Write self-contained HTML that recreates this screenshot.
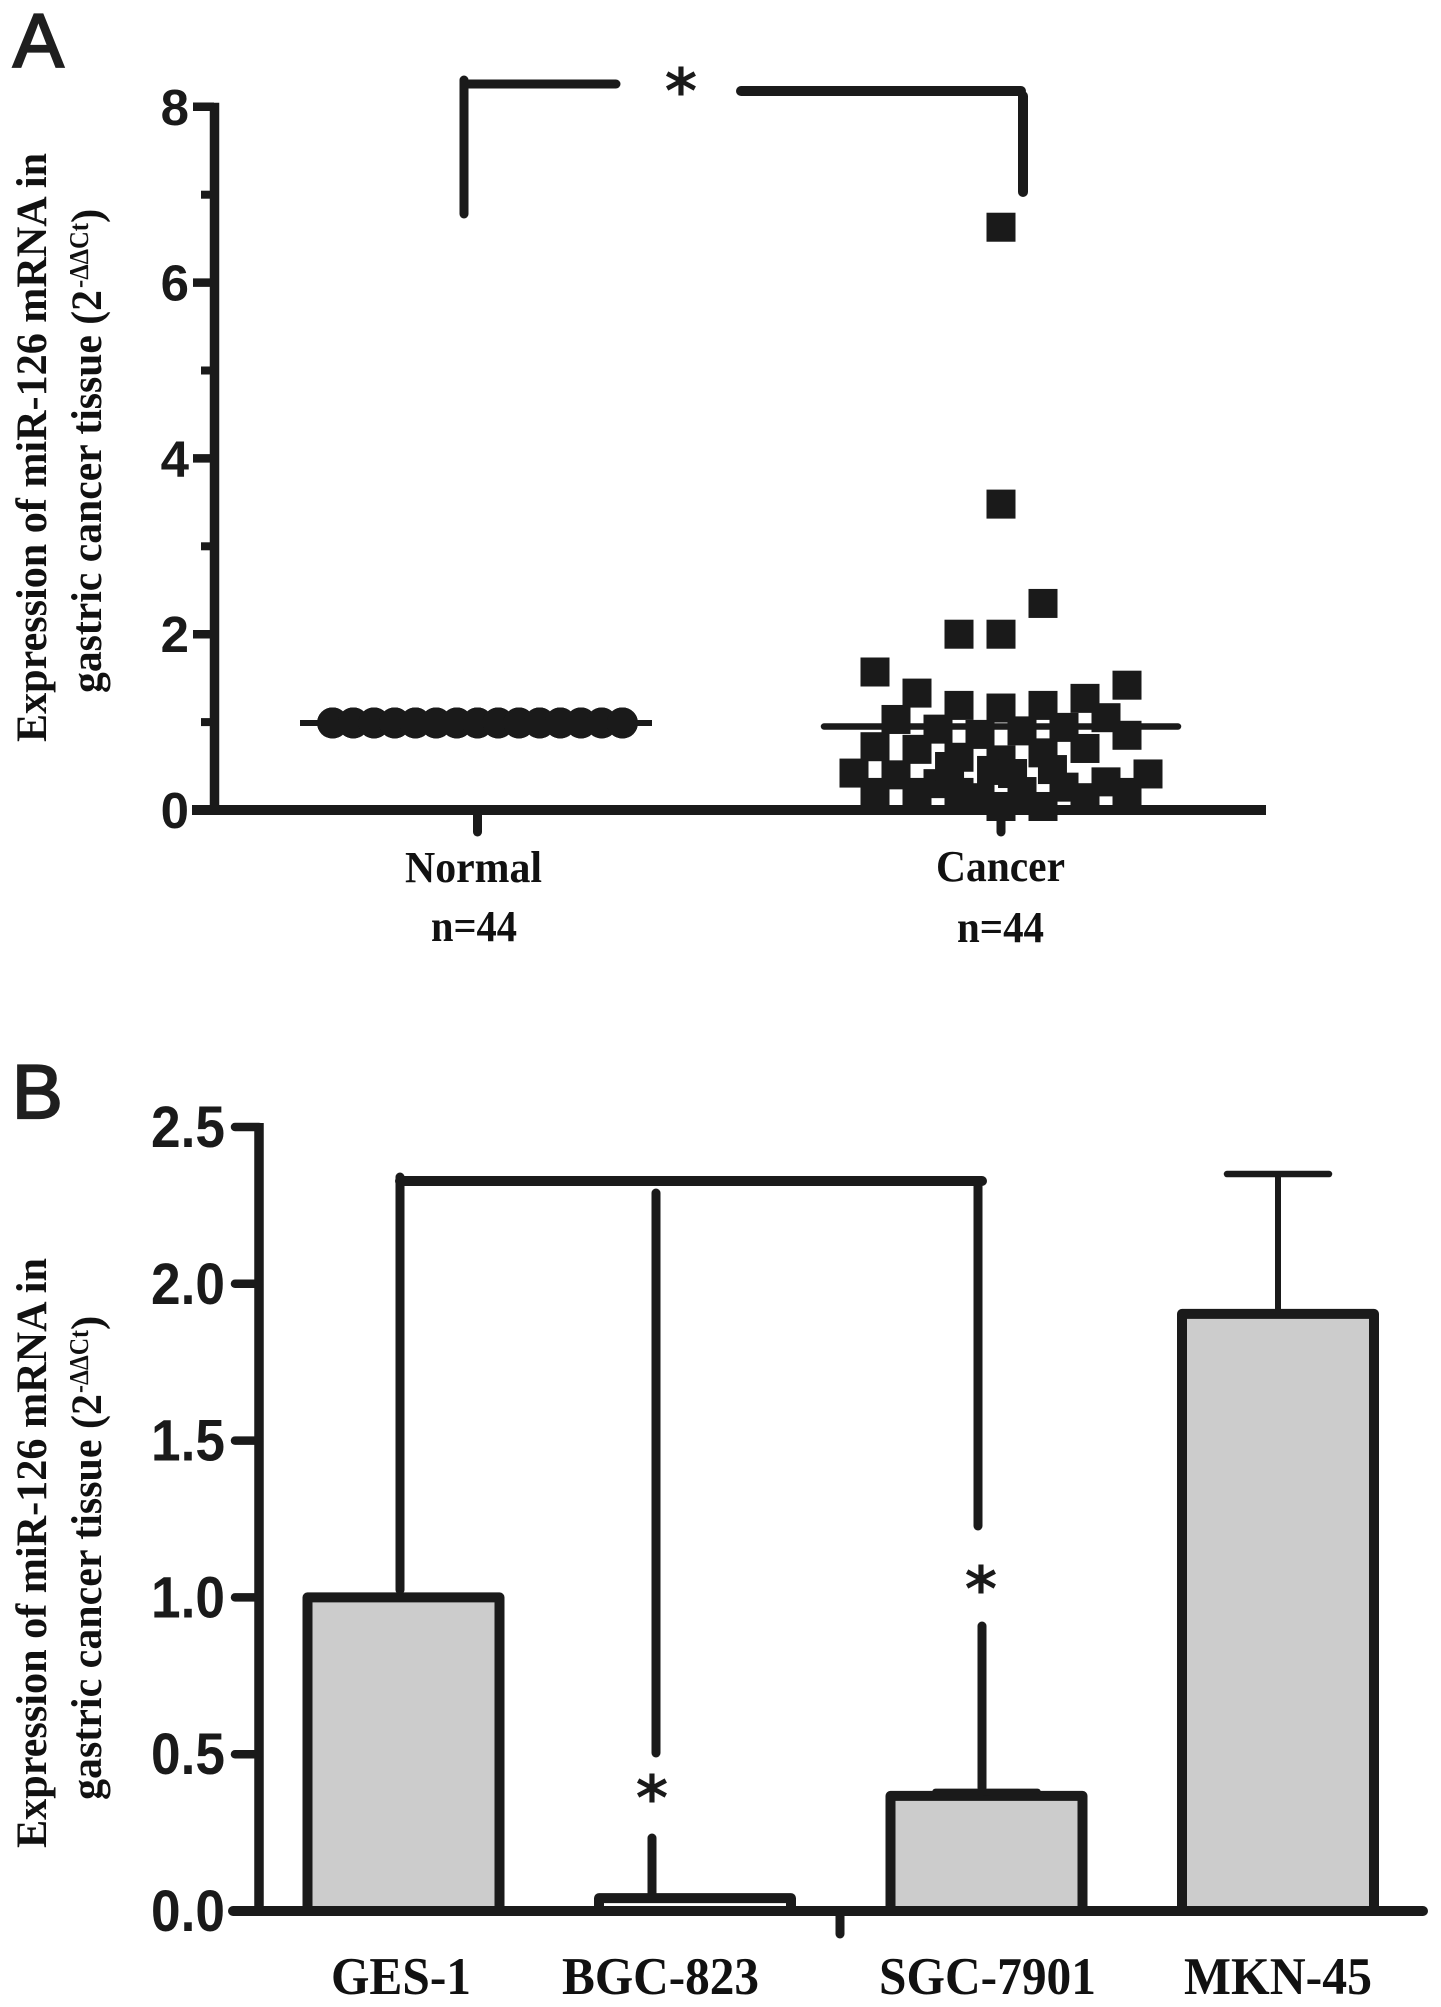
<!DOCTYPE html>
<html lang="en">
<head>
<meta charset="utf-8">
<title>miR-126 expression charts</title>
<style>
html,body{margin:0;padding:0;background:#fff;}
svg{display:block;}
.title{font-family:"Liberation Serif",serif;font-weight:bold;fill:#111;}
.cat{font-family:"Liberation Serif",serif;font-weight:bold;fill:#111;}
.tick{font-family:"Liberation Sans",sans-serif;font-weight:bold;fill:#1a1a1a;}
.letter{font-family:"Liberation Sans",sans-serif;fill:#1f1f1f;stroke:#1f1f1f;stroke-width:2.2px;}
.star{font-family:"DejaVu Sans",sans-serif;font-weight:bold;fill:#1a1a1a;text-anchor:middle;}
.ln{stroke:#1a1a1a;stroke-linecap:round;fill:none;}
</style>
</head>
<body>
<svg id="chart" xmlns="http://www.w3.org/2000/svg" width="1441" height="2007" viewBox="0 0 1441 2007">
  <rect x="0" y="0" width="1441" height="2007" fill="#ffffff"/>

  <!-- Panel A static text -->
  <text class="letter" x="13" y="67" font-size="76">A</text>
  <text class="title" transform="translate(46,742) rotate(-90)" font-size="43" textLength="589" lengthAdjust="spacingAndGlyphs">Expression of miR-126 mRNA in</text>
  <text class="title" transform="translate(101,693) rotate(-90)" font-size="43" textLength="403" lengthAdjust="spacingAndGlyphs">gastric cancer tissue (2</text>
  <text class="title" transform="translate(88,288) rotate(-90)" font-size="27" textLength="65" lengthAdjust="spacingAndGlyphs">-ΔΔCt</text>
  <text class="title" transform="translate(101,223) rotate(-90)" font-size="43">)</text>
  <text class="cat" x="405" y="882" font-size="44" textLength="137" lengthAdjust="spacingAndGlyphs">Normal</text>
  <text class="cat" x="431" y="941" font-size="44" textLength="86" lengthAdjust="spacingAndGlyphs">n=44</text>
  <text class="cat" x="936" y="881" font-size="44" textLength="129" lengthAdjust="spacingAndGlyphs">Cancer</text>
  <text class="cat" x="957" y="942" font-size="44" textLength="87" lengthAdjust="spacingAndGlyphs">n=44</text>

  <!-- Panel A significance bracket -->
  <g>
    <line class="ln" x1="464" y1="80" x2="464" y2="214" stroke-width="9"/>
    <line class="ln" x1="464" y1="84" x2="616" y2="84" stroke-width="9"/>
    <line class="ln" x1="741" y1="91" x2="1021" y2="91" stroke-width="10"/>
    <line class="ln" x1="1023" y1="96" x2="1023" y2="192" stroke-width="10"/>
  </g>
  <text class="star" x="681" y="113" font-size="62">*</text>

  <!-- Panel B static text -->
  <text class="letter" x="12" y="1118" font-size="76">B</text>
  <text class="title" transform="translate(46,1848) rotate(-90)" font-size="43" textLength="590" lengthAdjust="spacingAndGlyphs">Expression of miR-126 mRNA in</text>
  <text class="title" transform="translate(101,1800) rotate(-90)" font-size="43" textLength="406" lengthAdjust="spacingAndGlyphs">gastric cancer tissue (2</text>
  <text class="title" transform="translate(88,1393) rotate(-90)" font-size="27" textLength="63" lengthAdjust="spacingAndGlyphs">-ΔΔCt</text>
  <text class="title" transform="translate(101,1330) rotate(-90)" font-size="43">)</text>

  <!-- Panel B category labels -->
  <text class="cat" x="331" y="1994" font-size="53" textLength="140" lengthAdjust="spacingAndGlyphs">GES-1</text>
  <text class="cat" x="562" y="1994" font-size="53" textLength="197" lengthAdjust="spacingAndGlyphs">BGC-823</text>
  <text class="cat" x="879" y="1994" font-size="53" textLength="217" lengthAdjust="spacingAndGlyphs">SGC-7901</text>
  <text class="cat" x="1184" y="1994" font-size="53" textLength="188" lengthAdjust="spacingAndGlyphs">MKN-45</text>

  <!-- Panel B significance brackets -->
  <g>
    <line class="ln" x1="400" y1="1181" x2="982" y2="1181" stroke-width="10"/>
    <line class="ln" x1="400" y1="1177" x2="400" y2="1590" stroke-width="9"/>
    <line class="ln" x1="656" y1="1193" x2="656" y2="1753" stroke-width="9"/>
    <line class="ln" x1="652" y1="1838" x2="652" y2="1900" stroke-width="9"/>
    <line class="ln" x1="978" y1="1181" x2="978" y2="1526" stroke-width="9"/>
    <line class="ln" x1="982" y1="1626" x2="982" y2="1788" stroke-width="9"/>
  </g>
  <text class="star" x="652" y="1820" font-size="62">*</text>
  <text class="star" x="981" y="1611" font-size="62">*</text>

  <g id="panelA"></g>
  <g id="panelB"></g>
</svg>

<script>
/* Panel A data */
const aMajorTicks = [0, 2, 4, 6, 8];
const aMinorTicks = [1, 3, 5, 7];
const normalColumns = [-7,-7,-7,-6,-6,-6,-5,-5,-5,-4,-4,-4,-3,-3,-3,-2,-2,-2,-1,-1,-1,0,0,0,1,1,1,2,2,2,3,3,3,4,4,4,5,5,5,6,6,7,7,7];
const normalValues = [0.99,0.99,0.99,0.99,0.99,0.99,0.99,0.99,0.99,0.99,0.99,0.99,0.99,0.99,0.99,0.99,0.99,0.99,0.99,0.99,0.99,0.99,0.99,0.99,0.99,0.99,0.99,0.99,0.99,0.99,0.99,0.99,0.99,0.99,0.99,0.99,0.99,0.99,0.99,0.99,0.99,0.99,0.99,0.99];
const cancerColumns = [-7,-6,-6,-6,-5,-5,-4,-4,-4,-3,-3,-2.45,-2,-2,-2,-2,-1,-1,-0.45,0,0,0,0,0,0,0.55,1,1,2,2,2,2,2.45,3,3,4,4,4,5,5,6,6,6,7];
const cancerValues = [0.42,1.57,0.72,0.2,1.03,0.40,1.33,0.69,0.2,0.92,0.30,0.495,2.0,1.19,0.60,0.2,0.14,0.86,0.45,6.63,3.48,2.0,1.16,0.57,0.04,0.415,0.90,0.21,2.35,1.19,0.65,0.04,0.46,0.94,0.26,1.27,0.70,0.14,1.05,0.32,1.42,0.85,0.2,0.41];
const normalMean = 0.99;
const cancerMean = 0.95;

/* Panel B data */
const bTicks = [0, 0.5, 1, 1.5, 2, 2.5];
const bTickLabels = ["0.0", "0.5", "1.0", "1.5", "2.0", "2.5"];
const bCategories = ["GES-1", "BGC-823", "SGC-7901", "MKN-45"];
const bValues = [1.0, 0.041, 0.367, 1.904];
const bErrorTops = [1.0, 0.041, 0.38, 2.35];

const NS = 'http://www.w3.org/2000/svg';
const INK = '#1a1a1a';
const panelA = document.getElementById('panelA');
const panelB = document.getElementById('panelB');

function el(parent, tag, attrs, text) {
  const node = document.createElementNS(NS, tag);
  for (const k in attrs) node.setAttribute(k, attrs[k]);
  if (text !== undefined) node.textContent = text;
  parent.appendChild(node);
  return node;
}

/* Panel A axis functions */
const yA = v => 810 - 87.9 * v;
const xNormal = c => 477.5 + 20.7 * c;
const xCancer = c => 1001 + 21 * c;

/* Panel B axis functions */
const yB = v => 1911 - 313.6 * v;
const xB = i => 403.5 + 291.5 * i;

/* Panel A marks */
normalValues.forEach((v, i) => {
  const dot = el(panelA, 'circle', {cx: xNormal(normalColumns[i]), cy: yA(v), r: 15.5, fill: INK});
  
  
});
const normalMeanLine = el(panelA, 'line', {x1: 300, x2: 652, y1: yA(normalMean), y2: yA(normalMean), stroke: INK, 'stroke-width': 6});



cancerValues.forEach((v, i) => {
  const sq = el(panelA, 'rect', {x: xCancer(cancerColumns[i]) - 14.5, y: yA(v) - 14.5, width: 29, height: 29, fill: INK});
  
  
});
const cancerMeanLine = el(panelA, 'line', {x1: 824, x2: 1178, y1: yA(cancerMean), y2: yA(cancerMean), stroke: INK, 'stroke-width': 6.5, 'stroke-linecap': 'round'});



/* Panel A axes */
const aYAxis = el(panelA, 'line', {x1: 214.5, x2: 214.5, y1: yA(8) - 4, y2: yA(0), stroke: INK, 'stroke-width': 9.5});


const aXAxis = el(panelA, 'line', {x1: 192, x2: 1266, y1: yA(0), y2: yA(0), stroke: INK, 'stroke-width': 10});



aMajorTicks.forEach(v => {
  const t = el(panelA, 'line', {x1: 193, x2: 214, y1: yA(v), y2: yA(v), stroke: INK, 'stroke-width': 8.5});
  
  
  const lab = el(panelA, 'text', {class: 'tick', x: 189, y: yA(v) + 18, 'font-size': 51, 'text-anchor': 'end'}, String(v));
  
  
});
aMinorTicks.forEach(v => {
  const t = el(panelA, 'line', {x1: 201, x2: 214, y1: yA(v), y2: yA(v), stroke: INK, 'stroke-width': 8});
  
  
});
[xNormal(0), xCancer(0)].forEach(x => {
  const t = el(panelA, 'line', {x1: x, x2: x, y1: 812, y2: 832, stroke: INK, 'stroke-width': 9, 'stroke-linecap': 'round'});
  
  
});

/* Panel B marks */
bValues.forEach((v, i) => {
  const fill = v < 0.1 ? '#ffffff' : '#cccccc';
  const bar = el(panelB, 'rect', {x: xB(i) - 96, y: yB(v), width: 192, height: yB(0) - yB(v), fill: fill, stroke: INK, 'stroke-width': 10, 'stroke-linejoin': 'round'});
  
  
  if (bErrorTops[i] > v) {
    const stem = el(panelB, 'line', {x1: xB(i), x2: xB(i), y1: yB(v), y2: yB(bErrorTops[i]), stroke: INK, 'stroke-width': 6});
    
    
    const cap = el(panelB, 'line', {x1: xB(i) - 51, x2: xB(i) + 51, y1: yB(bErrorTops[i]), y2: yB(bErrorTops[i]), stroke: INK, 'stroke-width': 6.5, 'stroke-linecap': 'round'});
    
    
  }
});

/* Panel B axes */
const bYAxis = el(panelB, 'line', {x1: 259, x2: 259, y1: yB(2.5) - 4, y2: yB(0), stroke: INK, 'stroke-width': 9.5});


const bXAxis = el(panelB, 'line', {x1: 233, x2: 1423, y1: yB(0), y2: yB(0), stroke: INK, 'stroke-width': 10, 'stroke-linecap': 'round'});


bTicks.forEach((v, i) => {
  const t = el(panelB, 'line', {x1: 235, x2: 259, y1: yB(v), y2: yB(v), stroke: INK, 'stroke-width': 8.5, 'stroke-linecap': 'round'});
  
  
  const lab = el(panelB, 'text', {class: 'tick', x: 151, y: yB(v) + 20, 'font-size': 58, textLength: 74, lengthAdjust: 'spacingAndGlyphs'}, bTickLabels[i]);
  
  
});
const stray = el(panelB, 'line', {x1: 840, x2: 840, y1: 1916, y2: 1934, stroke: INK, 'stroke-width': 9, 'stroke-linecap': 'round'});


</script>
</body>
</html>
